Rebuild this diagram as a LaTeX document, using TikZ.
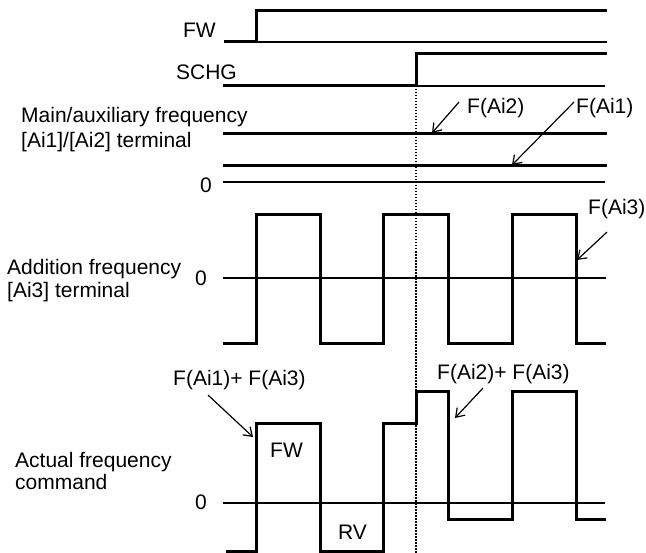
\documentclass[tikz,border=0pt]{standalone}
\usepackage{fontspec}
\setmainfont{Liberation Sans}
\usetikzlibrary{arrows.meta, calc, positioning}

\begin{document}
\begin{tikzpicture}[x=1bp, y=-1bp,
        every node/.style={inner sep=0pt, font=\fontsize{21bp}{24bp}\selectfont},
        level/.style={line width=3bp},
        zeroline/.style={line width=1.2bp},
        pointer/.style={-{Straight Barb[length=8bp,width=11bp]}, line width=1.2bp},
        marker/.style={line width=1.5bp, dash pattern=on 1.5bp off 1.5bp}]
        \useasboundingbox (0,0) rectangle (646,553);

        % Draw switching instant of SCHG
        \draw[marker] (416,86) -- (416,553);

        % Signal names
        \node[anchor=base east] (fwname) at (216,37.5) {FW};
        \node[anchor=base east] (schgname) at (237,79.5) {SCHG};
        \node[anchor=base west, align=left] (mainname) at (21,147.5) {Main/auxiliary frequency\\[1bp][Ai1]/[Ai2] terminal};
        \node[anchor=base west, align=left] (addname) at (7,297.5) {Addition frequency\\[-1bp][Ai3] terminal};
        \node[anchor=base west, align=left] (actname) at (15,489.5) {Actual frequency\\[-2bp]command};

        % Zero levels
        \node[anchor=base east] (zeromain) at (212,192.5) {0};
        \node[anchor=base east] (zeroadd) at (207,285.5) {0};
        \node[anchor=base east] (zeroact) at (207,509.5) {0};
        \draw[zeroline] (223,182) -- (605,182);
        \draw[zeroline] (223,278) -- (606,278);
        \draw[zeroline] (223,503) -- (605,503);

        % FW and SCHG terminals
        \draw[zeroline] (256,42) -- (607,42);
        \draw[level] (224,42) -- (256,42) -- (256,11) -- (607,11);
        \draw[zeroline] (416,86) -- (605,86);
        \draw[level] (223,86) -- (416,86) -- (416,54) -- (607,54);

        % Main/auxiliary frequency
        \draw[level] (223,134) -- (607,134);
        \draw[level] (223,166) -- (607,166);

        % Addition frequency
        \draw[level] (223,343) -- (256,343) -- (256,215) -- (320,215) -- (320,343)
            -- (383,343) -- (383,215) -- (448,215) -- (448,343) -- (512,343)
            -- (512,215) -- (576,215) -- (576,343) -- (606,343);

        % Actual frequency command
        \draw[level] (226,551) -- (256,551) -- (256,423) -- (320,423) -- (320,551)
            -- (383,551) -- (383,423) -- (416,423) -- (416,391) -- (448,391)
            -- (448,519) -- (512,519) -- (512,391) -- (576,391) -- (576,519) -- (606,519);
        \node[anchor=base west] (fwzone) at (270,457.5) {FW};
        \node[anchor=base west] (rvzone) at (338,539.5) {RV};

        % Labels and pointers
        \node[anchor=base west] (ai2) at (467,113.5) {F(Ai2)};
        \node[anchor=base west] (ai1) at (576,113.5) {F(Ai1)};
        \node[anchor=base west] (ai3) at (588,214.5) {F(Ai3)};
        \node[anchor=base west] (sumone) at (173,385.5) {F(Ai1)+ F(Ai3)};
        \node[anchor=base west] (sumtwo) at (437,379.5) {F(Ai2)+ F(Ai3)};
        \coordinate (tipai2) at (432,133);
        \coordinate (tipai1) at (512,165);
        \coordinate (tipai3) at (577,260);
        \coordinate (tipsumone) at (253,437);
        \coordinate (tipsumtwo) at (455,418);
        \draw[pointer] ($(ai2.west)+(-8,-6)$) -- (tipai2);
        \draw[pointer] ($(ai1.west)+(-2,-6)$) -- (tipai1);
        \draw[pointer] ($(ai3.south west)+(19,13)$) -- (tipai3);
        \draw[pointer] ($(sumone.south west)+(35,5)$) -- (tipsumone);
        \draw[pointer] ($(sumtwo.south west)+(46,4)$) -- (tipsumtwo);
\end{tikzpicture}
\end{document}
